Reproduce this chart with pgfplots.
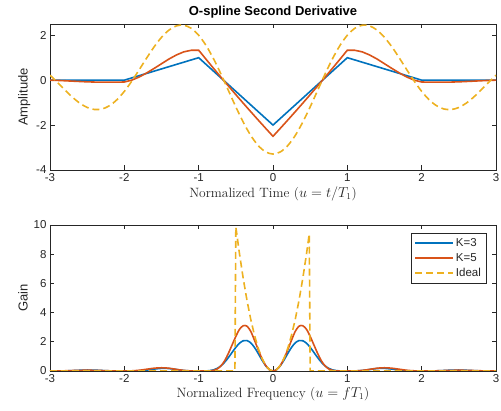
\documentclass[border=0pt]{standalone}
\usepackage{pgfplots}
\pgfplotsset{compat=1.18}
\usepackage{fontspec}
\newfontfamily\hel{Liberation Sans}

\definecolor{mblue}{rgb}{0,0.447,0.741}
\definecolor{mred}{rgb}{0.85,0.325,0.098}
\definecolor{myel}{rgb}{0.929,0.694,0.125}
\definecolor{maxc}{rgb}{0.15,0.15,0.15}

\pgfplotsset{
  mstyle/.style={
    width=446pt, height=146pt, scale only axis,
    xmin=-3, xmax=3, xtick={-3,-2,-1,0,1,2,3},
    axis line style={maxc, line width=0.6pt},
    tick style={maxc, line width=0.6pt},
    tick align=inside, tick pos=both,
    major tick length=4.5pt,
    tick label style={font=\hel\fontsize{11.5}{13}\selectfont, text=maxc},
    /pgf/number format/assume math mode=true,
    xlabel style={font=\fontsize{13.5}{15}\selectfont, text=maxc, yshift=2pt},
    ylabel style={font=\hel\fontsize{13}{15}\selectfont, text=maxc, yshift=-1pt},
    clip=true,
  },
  lw/.style={line width=1.6pt},
  idl/.style={myel, line width=1.6pt, dash pattern=on 7pt off 4pt},
}

\begin{document}
\begin{tikzpicture}
\useasboundingbox (0pt,0pt) rectangle (501pt,411pt);

% top: time domain
\begin{axis}[mstyle, at={(50pt,241pt)}, anchor=south west,
  ymin=-4, ymax=2.5, ytick={-4,-2,0,2},
  xlabel={Normalized Time ($u=t/T_1$)}, ylabel={Amplitude},
  title={\hel\bfseries\fontsize{13}{15}\selectfont O-spline Second Derivative},
  title style={yshift=-4pt}]
\addplot[mblue, lw] coordinates {(-3,0) (-2,0) (-1,1) (0,-2) (1,1) (2,0) (3,0)};
\addplot[mred, lw] coordinates {
 (-3,0) (-2.9,-0.012) (-2.8,-0.027) (-2.7,-0.044) (-2.6,-0.06) (-2.5,-0.075)
 (-2.4,-0.085) (-2.3,-0.09) (-2.2,-0.091) (-2.1,-0.088) (-2,-0.083)
 (-1.9,0) (-1.8,0.14) (-1.7,0.32) (-1.6,0.52) (-1.5,0.73) (-1.4,0.94)
 (-1.3,1.12) (-1.2,1.26) (-1.1,1.33) (-1,1.333)
 (-0.9,0.9275) (-0.8,0.5267) (-0.7,0.1308) (-0.6,-0.26) (-0.5,-0.6458)
 (-0.4,-1.0267) (-0.3,-1.4025) (-0.2,-1.7733) (-0.1,-2.1392) (0,-2.5)
 (0.1,-2.1392) (0.2,-1.7733) (0.3,-1.4025) (0.4,-1.0267) (0.5,-0.6458)
 (0.6,-0.26) (0.7,0.1308) (0.8,0.5267) (0.9,0.9275) (1,1.333)
 (1.1,1.33) (1.2,1.26) (1.3,1.12) (1.4,0.94) (1.5,0.73) (1.6,0.52)
 (1.7,0.32) (1.8,0.14) (1.9,0) (2,-0.083)
 (2.1,-0.088) (2.2,-0.091) (2.3,-0.09) (2.4,-0.085) (2.5,-0.075)
 (2.6,-0.06) (2.7,-0.044) (2.8,-0.027) (2.9,-0.012) (3,0)};
\addplot[idl, smooth] coordinates {
 (-3,0.2222) (-2.9,-0.1005) (-2.8,-0.4361) (-2.7,-0.7538) (-2.6,-1.0234)
 (-2.5,-1.2159) (-2.4,-1.3084) (-2.3,-1.2849) (-2.2,-1.1386) (-2.1,-0.8724)
 (-2,-0.5) (-1.9,-0.0446) (-1.8,0.4623) (-1.7,0.9835) (-1.6,1.4782)
 (-1.5,1.9058) (-1.4,2.2288) (-1.3,2.4163) (-1.2,2.4458) (-1.1,2.3068)
 (-1,2) (-0.9,1.5395) (-0.8,0.9509) (-0.7,0.2698) (-0.6,-0.4598)
 (-0.5,-1.1902) (-0.4,-1.8720) (-0.3,-2.4585) (-0.2,-2.9093) (-0.1,-3.1931)
 (0,-3.2899)
 (0.1,-3.1931) (0.2,-2.9093) (0.3,-2.4585) (0.4,-1.8720) (0.5,-1.1902)
 (0.6,-0.4598) (0.7,0.2698) (0.8,0.9509) (0.9,1.5395) (1,2)
 (1.1,2.3068) (1.2,2.4458) (1.3,2.4163) (1.4,2.2288) (1.5,1.9058)
 (1.6,1.4782) (1.7,0.9835) (1.8,0.4623) (1.9,-0.0446) (2,-0.5)
 (2.1,-0.8724) (2.2,-1.1386) (2.3,-1.2849) (2.4,-1.3084) (2.5,-1.2159)
 (2.6,-1.0234) (2.7,-0.7538) (2.8,-0.4361) (2.9,-0.1005) (3,0.2222)};
\end{axis}

% bottom: frequency domain
\begin{axis}[mstyle, at={(50pt,40pt)}, anchor=south west,
  ymin=0, ymax=10, ytick={0,2,4,6,8,10},
  xlabel={Normalized Frequency ($u=fT_1$)}, ylabel={Gain},
  legend style={at={(0.978,0.945)}, anchor=north east, draw=maxc,
    line width=0.6pt, fill=white,
    font=\hel\fontsize{11.5}{13}\selectfont, text=maxc,
    row sep=1.5pt, inner xsep=3pt, inner ysep=3pt},
  legend cell align=left,
  legend image code/.code={\draw[#1] (0pt,0pt) -- (38pt,0pt);}]
\addplot[mblue, lw, smooth] coordinates {
 (-3,0) (-2.9,0.0004) (-2.8,0.0062) (-2.7,0.0238) (-2.6,0.0491) (-2.5,0.0648)
 (-2.4,0.0576) (-2.3,0.0328) (-2.2,0.0100) (-2.1,0.0008) (-2,0)
 (-1.9,0.0010) (-1.8,0.0149) (-1.7,0.0601) (-1.6,0.1295) (-1.5,0.1801)
 (-1.4,0.1692) (-1.3,0.1027) (-1.2,0.0336) (-1.1,0.0031) (-1,0)
 (-0.95,0.0003) (-0.9,0.0046) (-0.85,0.0238) (-0.8,0.0756) (-0.75,0.1801)
 (-0.7,0.3543) (-0.65,0.6046) (-0.6,0.9211) (-0.55,1.2750) (-0.5,1.6211)
 (-0.45,1.9047) (-0.4,2.0724) (-0.35,2.0852) (-0.3,1.9291) (-0.25,1.6211)
 (-0.2,1.2094) (-0.15,0.7652) (-0.1,0.3696) (-0.05,0.0971) (0,0)
 (0.05,0.0971) (0.1,0.3696) (0.15,0.7652) (0.2,1.2094) (0.25,1.6211)
 (0.3,1.9291) (0.35,2.0852) (0.4,2.0724) (0.45,1.9047) (0.5,1.6211)
 (0.55,1.2750) (0.6,0.9211) (0.65,0.6046) (0.7,0.3543) (0.75,0.1801)
 (0.8,0.0756) (0.85,0.0238) (0.9,0.0046) (0.95,0.0003) (1,0)
 (1.1,0.0031) (1.2,0.0336) (1.3,0.1027) (1.4,0.1692) (1.5,0.1801)
 (1.6,0.1295) (1.7,0.0601) (1.8,0.0149) (1.9,0.0010) (2,0)
 (2.1,0.0008) (2.2,0.0100) (2.3,0.0328) (2.4,0.0576) (2.5,0.0648)
 (2.6,0.0491) (2.7,0.0238) (2.8,0.0062) (2.9,0.0004) (3,0)};
\addlegendentry{K=3}
\addplot[mred, lw, smooth] coordinates {
 (-3,0) (-2.9,0.003) (-2.8,0.013) (-2.7,0.03) (-2.6,0.045) (-2.5,0.05)
 (-2.4,0.045) (-2.3,0.03) (-2.2,0.013) (-2.1,0.003) (-2,0)
 (-1.9,0.012) (-1.8,0.05) (-1.7,0.12) (-1.6,0.19) (-1.5,0.22)
 (-1.4,0.19) (-1.3,0.11) (-1.2,0.04) (-1.1,0.005) (-1,0)
 (-0.9,0.002) (-0.85,0.01) (-0.8,0.04) (-0.75,0.14) (-0.7,0.35)
 (-0.65,0.70) (-0.6,1.21) (-0.55,1.79) (-0.5,2.37) (-0.45,2.86)
 (-0.4,3.10) (-0.35,3.07) (-0.3,2.72) (-0.25,2.12) (-0.2,1.47)
 (-0.15,0.87) (-0.1,0.39) (-0.05,0.099) (0,0)
 (0.05,0.099) (0.1,0.39) (0.15,0.87) (0.2,1.47) (0.25,2.12)
 (0.3,2.72) (0.35,3.07) (0.4,3.10) (0.45,2.86) (0.5,2.37)
 (0.55,1.79) (0.6,1.21) (0.65,0.70) (0.7,0.35) (0.75,0.14)
 (0.8,0.04) (0.85,0.01) (0.9,0.002) (1,0)
 (1.1,0.005) (1.2,0.04) (1.3,0.11) (1.4,0.19) (1.5,0.22)
 (1.6,0.19) (1.7,0.12) (1.8,0.05) (1.9,0.012) (2,0)
 (2.1,0.003) (2.2,0.013) (2.3,0.03) (2.4,0.045) (2.5,0.05)
 (2.6,0.045) (2.7,0.03) (2.8,0.013) (2.9,0.003) (3,0)};
\addlegendentry{K=5}
\addplot[idl] coordinates {
 (-3,0) (-0.5125,0) (-0.5,9.870) (-0.45,7.994) (-0.4,6.317) (-0.35,4.836)
 (-0.3,3.553) (-0.25,2.467) (-0.2,1.579) (-0.15,0.888) (-0.1,0.395)
 (-0.05,0.099) (0,0) (0.05,0.099) (0.1,0.395) (0.15,0.888) (0.2,1.579)
 (0.25,2.467) (0.3,3.553) (0.35,4.836) (0.4,6.317) (0.45,7.994)
 (0.4875,9.382) (0.5,0) (3,0)};
\addlegendentry{Ideal}
\end{axis}
\end{tikzpicture}
\end{document}
